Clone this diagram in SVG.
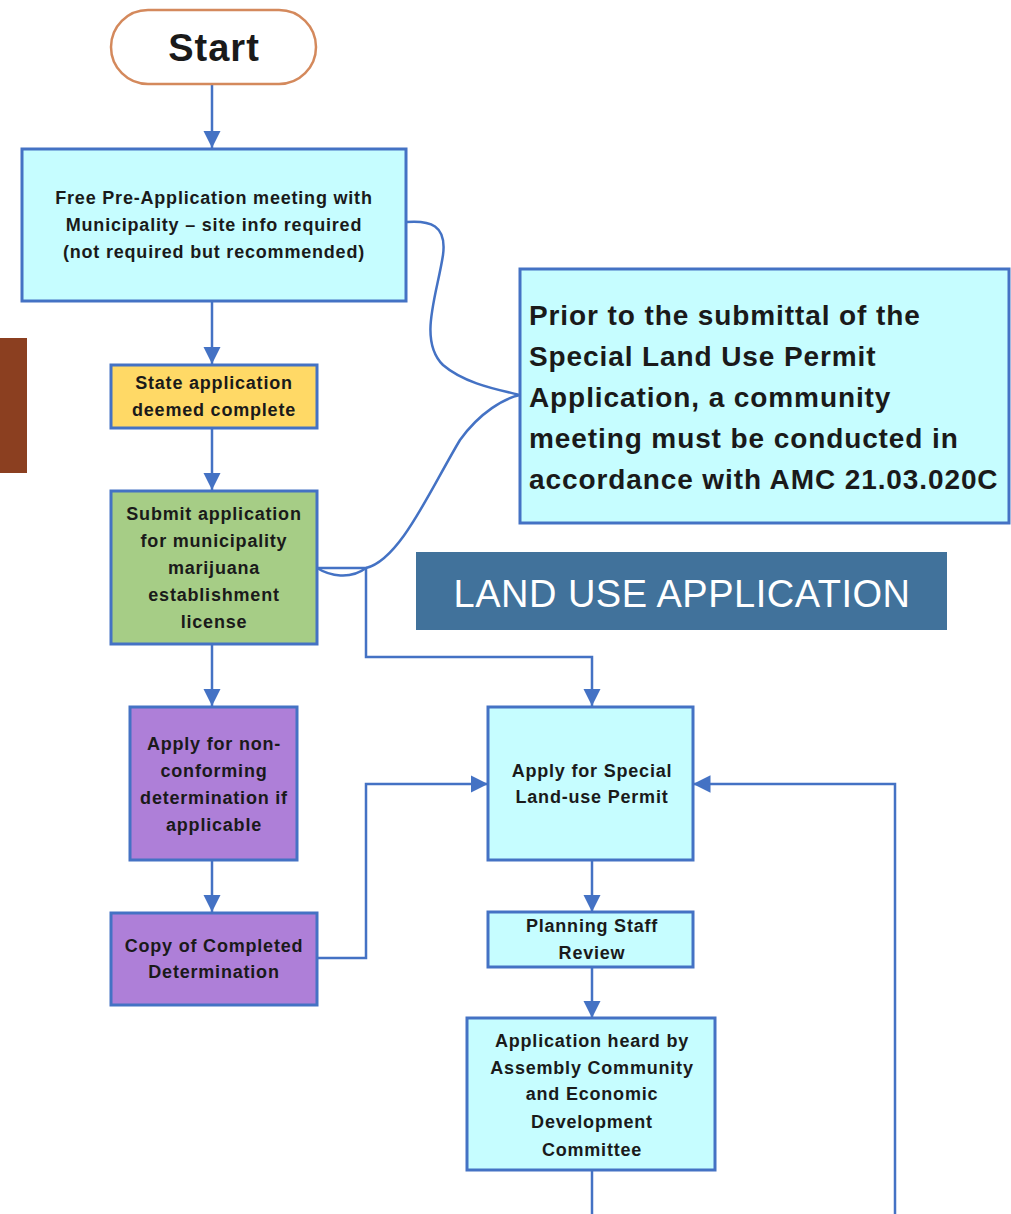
<svg xmlns="http://www.w3.org/2000/svg" width="1011" height="1214" viewBox="0 0 1011 1214">
<style>
.box{stroke:#4472c4;stroke-width:3}
.cyan{fill:#c6fdff}
.t{font-family:"Liberation Sans",Arial,sans-serif;font-weight:bold;font-size:18px;fill:#1a1a1a;text-anchor:middle;letter-spacing:0.8px}
.big{font-family:"Liberation Sans",Arial,sans-serif;font-weight:bold;font-size:28px;fill:#1a1a1a;letter-spacing:0.9px}
.c{fill:none;stroke:#4472c4;stroke-width:2.5}
</style>
<defs>
<marker id="ah" viewBox="0 0 10 10" refX="10" refY="5" markerWidth="7" markerHeight="7" orient="auto" markerUnits="strokeWidth">
<path d="M0,0 L10,5 L0,10 z" fill="#4472c4"/>
</marker>
</defs>
<rect x="0" y="338" width="27" height="135" fill="#8b3f20"/>
<g id="connectors">
<path class="c" d="M212,85 V148" marker-end="url(#ah)"/>
<path class="c" d="M212,301 V364" marker-end="url(#ah)"/>
<path class="c" d="M212,428 V490" marker-end="url(#ah)"/>
<path class="c" d="M212,644 V706" marker-end="url(#ah)"/>
<path class="c" d="M212,860 V912" marker-end="url(#ah)"/>
<path class="c" d="M317,958 H366 V784 H488" marker-end="url(#ah)"/>
<path class="c" d="M317,568 H366 V657 H592 V706" marker-end="url(#ah)"/>
<path class="c" d="M592,860 V912" marker-end="url(#ah)"/>
<path class="c" d="M592,967 V1018" marker-end="url(#ah)"/>
<path class="c" d="M592,1170 V1214"/>
<path class="c" d="M895,1214 V784 H693" marker-end="url(#ah)"/>
<path class="c" d="M406,222 C430,220 447,225 443,255 C437,295 418,340 443,365 C465,384 500,390 520,395"/>
<path class="c" d="M366,568 C400,560 430,490 460,440 C480,412 505,398 520,395"/>
<path class="c" d="M317,568 C330,576 350,580 366,568"/>
</g>
<g id="start">
<rect x="111" y="10" width="205" height="74" rx="37" fill="#fff" stroke="#d4895c" stroke-width="2.5"/>
<text x="214" y="61" font-family="Liberation Sans,Arial,sans-serif" font-weight="bold" font-size="38" letter-spacing="1" fill="#1a1a1a" text-anchor="middle">Start</text>
</g>
<g id="preapp">
<rect class="box cyan" x="22" y="149" width="384" height="152"/>
<text class="t" x="214" y="204">Free Pre-Application meeting with</text>
<text class="t" x="214" y="231">Municipality – site info required</text>
<text class="t" x="214" y="258">(not required but recommended)</text>
</g>
<g id="state">
<rect class="box" x="111" y="365" width="206" height="63" fill="#ffd966"/>
<text class="t" x="214" y="389">State application</text>
<text class="t" x="214" y="416">deemed complete</text>
</g>
<g id="submit">
<rect class="box" x="111" y="491" width="206" height="153" fill="#a6cd86"/>
<text class="t" x="214" y="520">Submit application</text>
<text class="t" x="214" y="547">for municipality</text>
<text class="t" x="214" y="574">marijuana</text>
<text class="t" x="214" y="601">establishment</text>
<text class="t" x="214" y="628">license</text>
</g>
<g id="nonconf">
<rect class="box" x="130" y="707" width="167" height="153" fill="#ae7fd8"/>
<text class="t" x="214" y="750">Apply for non-</text>
<text class="t" x="214" y="777">conforming</text>
<text class="t" x="214" y="804">determination if</text>
<text class="t" x="214" y="831">applicable</text>
</g>
<g id="copy">
<rect class="box" x="111" y="913" width="206" height="92" fill="#ae7fd8"/>
<text class="t" x="214" y="952">Copy of Completed</text>
<text class="t" x="214" y="978">Determination</text>
</g>
<g id="callout">
<rect class="box cyan" x="520" y="269" width="489" height="254"/>
<text class="big" x="529" y="325">Prior to the submittal of the</text>
<text class="big" x="529" y="366">Special Land Use Permit</text>
<text class="big" x="529" y="407">Application, a community</text>
<text class="big" x="529" y="448">meeting must be conducted in</text>
<text class="big" x="529" y="489">accordance with AMC 21.03.020C</text>
</g>
<g id="banner">
<rect x="416" y="552" width="531" height="78" fill="#41729b"/>
<text x="682" y="607" font-family="Liberation Sans,Arial,sans-serif" font-size="38" letter-spacing="0.5" fill="#fff" text-anchor="middle">LAND USE APPLICATION</text>
</g>
<g id="special">
<rect class="box cyan" x="488" y="707" width="205" height="153"/>
<text class="t" x="592" y="777">Apply for Special</text>
<text class="t" x="592" y="803">Land-use Permit</text>
</g>
<g id="planning">
<rect class="box cyan" x="488" y="912" width="205" height="55"/>
<text class="t" x="592" y="932">Planning Staff</text>
<text class="t" x="592" y="959">Review</text>
</g>
<g id="committee">
<rect class="box cyan" x="467" y="1018" width="248" height="152"/>
<text class="t" x="592" y="1047">Application heard by</text>
<text class="t" x="592" y="1074">Assembly Community</text>
<text class="t" x="592" y="1100">and Economic</text>
<text class="t" x="592" y="1128">Development</text>
<text class="t" x="592" y="1156">Committee</text>
</g>
</svg>
